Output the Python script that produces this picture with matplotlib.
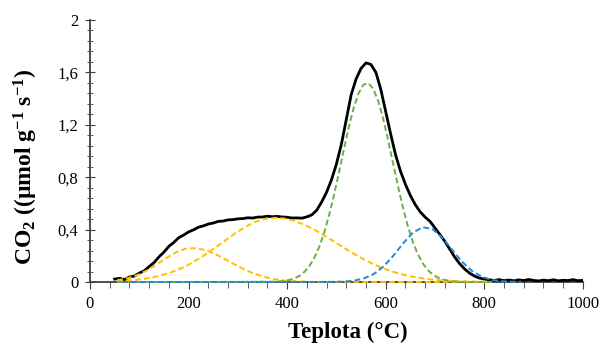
import matplotlib
matplotlib.use("Agg")
import matplotlib.pyplot as plt
from matplotlib.ticker import MultipleLocator, FuncFormatter
import numpy as np

temp = np.arange(50, 1001, 10)
co2 = [0.022, 0.028, 0.018, 0.038, 0.045, 0.068, 0.085, 0.118, 0.148, 0.192,
       0.228, 0.272, 0.302, 0.338, 0.358, 0.382, 0.398, 0.418, 0.428, 0.442,
       0.45, 0.462, 0.465, 0.474, 0.476, 0.482, 0.484, 0.49, 0.488, 0.495,
       0.496, 0.502, 0.498, 0.501, 0.496, 0.494, 0.488, 0.489, 0.487, 0.497,
       0.512, 0.548, 0.61, 0.685, 0.78, 0.9, 1.05, 1.24, 1.43, 1.55,
       1.63, 1.672, 1.66, 1.6, 1.47, 1.3, 1.13, 0.97, 0.845, 0.745,
       0.66, 0.59, 0.535, 0.495, 0.462, 0.412, 0.362, 0.31, 0.25, 0.19,
       0.14, 0.1, 0.068, 0.045, 0.03, 0.022, 0.016, 0.012, 0.018, 0.01,
       0.015, 0.009, 0.016, 0.011, 0.019, 0.012, 0.008, 0.014, 0.01, 0.017,
       0.009, 0.013, 0.011, 0.018, 0.01, 0.012]

# fitted components
t_y1 = [55, 75, 95, 115, 135, 155, 175, 195, 215, 235, 255, 275, 295, 315,
        335, 355, 375, 395, 415, 435, 455, 815]
y1 = [0.013, 0.027, 0.051, 0.087, 0.133, 0.183, 0.228, 0.255, 0.258, 0.243,
      0.212, 0.172, 0.131, 0.092, 0.061, 0.037, 0.021, 0.011, 0.006, 0.003,
      0.001, 0.0]

t_y2 = list(range(55, 816, 20))
y2 = [0.006, 0.010, 0.017, 0.027, 0.042, 0.062, 0.088, 0.122, 0.164, 0.212,
      0.264, 0.319, 0.372, 0.420, 0.458, 0.482, 0.49, 0.484, 0.466, 0.437,
      0.399, 0.356, 0.309, 0.262, 0.216, 0.174, 0.136, 0.104, 0.078, 0.056,
      0.040, 0.028, 0.018, 0.012, 0.008, 0.005, 0.003, 0.002, 0.001]

t_g = [55, 255, 375, 385, 395, 405, 415, 425, 435, 445, 455, 465, 475, 485,
       495, 505, 515, 525, 535, 545, 555, 565, 575, 585, 595, 605, 615, 625,
       635, 645, 655, 665, 675, 685, 695, 705, 715, 725, 735, 745, 755, 815]
g = [0.0, 0.0, 0.003, 0.005, 0.009, 0.016, 0.028, 0.047, 0.077, 0.121,
     0.183, 0.267, 0.375, 0.508, 0.663, 0.833, 1.010, 1.180, 1.328, 1.441,
     1.506, 1.517, 1.473, 1.378, 1.243, 1.080, 0.904, 0.730, 0.567, 0.425,
     0.307, 0.214, 0.143, 0.093, 0.058, 0.035, 0.020, 0.011, 0.006, 0.003,
     0.001, 0.0]

t_b = [65, 255, 455, 475, 495, 515, 535, 555, 575, 595, 615, 635, 655, 675,
       695, 715, 735, 755, 775, 795, 815, 835, 855, 875]
b = [0.0, 0.0, 0.0, 0.0, 0.001, 0.003, 0.010, 0.026, 0.059, 0.116, 0.198,
     0.293, 0.376, 0.418, 0.404, 0.338, 0.245, 0.154, 0.084, 0.040, 0.016,
     0.006, 0.002, 0.0]

plt.rcParams['font.family'] = 'Liberation Serif'
plt.rcParams['mathtext.fontset'] = 'custom'
plt.rcParams['mathtext.rm'] = 'Liberation Serif:bold'
plt.rcParams['mathtext.default'] = 'rm'

fig = plt.figure(figsize=(6.04, 3.49), dpi=100)
ax = fig.add_axes([0.149, 0.192, 0.816, 0.751])

ax.plot(temp, co2, color='black', lw=2.0, zorder=3)
dash = (3, 1.6)
ax.plot(t_y1, y1, color='#FFC000', lw=1.4, dashes=dash, zorder=4, clip_on=False)
ax.plot(t_y2, y2, color='#FFC000', lw=1.4, dashes=dash, zorder=4, clip_on=False)
ax.plot(t_g, g, color='#70AD47', lw=1.4, dashes=dash, zorder=4, clip_on=False)
ax.plot(t_b, b, color='#1F8AD6', lw=1.4, dashes=dash, zorder=5, clip_on=False)

ax.set_xlim(0, 1000)
ax.set_ylim(0, 2)
ax.xaxis.set_major_locator(MultipleLocator(200))
ax.xaxis.set_minor_locator(MultipleLocator(40))
ax.yaxis.set_major_locator(MultipleLocator(0.4))
ax.yaxis.set_minor_locator(MultipleLocator(0.08))
ax.yaxis.set_major_formatter(FuncFormatter(lambda v, p: f'{v:g}'.replace('.', ',')))

for s in ['top', 'right']:
    ax.spines[s].set_visible(False)
for s in ['left', 'bottom']:
    ax.spines[s].set_color('#404040')
    ax.spines[s].set_linewidth(1.3)

ax.tick_params(axis='x', which='both', direction='out', color='#404040', labelsize=12, pad=5)
ax.tick_params(axis='x', which='major', length=5)
ax.tick_params(axis='x', which='minor', length=4)
ax.tick_params(axis='y', which='both', direction='inout', color='#404040', labelsize=12, pad=5)
ax.tick_params(axis='y', which='major', length=7)
ax.tick_params(axis='y', which='minor', length=5)

ax.set_xlabel('Teplota (°C)', fontsize=16.5, fontweight='bold')
ax.set_ylabel(r'CO$_2$ ((µmol g$^{-1}$ s$^{-1}$)', fontsize=17, fontweight='bold')
ax.xaxis.set_label_coords(0.523, -0.152)
ax.yaxis.set_label_coords(-0.102, 0.44)

fig.savefig('out.png', dpi=100)
